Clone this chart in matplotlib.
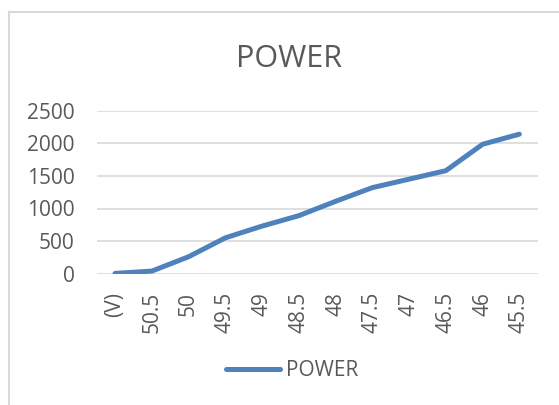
import matplotlib
matplotlib.use("Agg")
import matplotlib.pyplot as plt
from matplotlib.lines import Line2D

# data
voltage_labels = ["(V)", "50.5", "50", "49.5", "49", "48.5", "48",
                  "47.5", "47", "46.5", "46", "45.5"]
power = [5, 40, 260, 550, 730, 890, 1110, 1320, 1450, 1580, 1985, 2140]
y_ticks = [0, 500, 1000, 1500, 2000, 2500]

W, H = 559, 405
TEXT = "#595959"
GRID = "#D9D9D9"
BLUE = "#4F81BD"

plt.rcParams["font.family"] = ["Open Sans", "DejaVu Sans"]

fig = plt.figure(figsize=(W / 100, H / 100), dpi=100)
ax = fig.add_axes([96.7 / W, 1 - 273.7 / H, (537.7 - 96.7) / W, (273.7 - 110.7) / H])

x = list(range(len(voltage_labels)))
ax.plot(x, power, color=BLUE, lw=3.6, solid_capstyle="round",
        solid_joinstyle="round", label="POWER", zorder=3)

ax.set_xlim(-0.5, len(voltage_labels) - 0.5)
ax.set_ylim(0, 2500)
ax.set_yticks(y_ticks)
ax.set_yticklabels([str(v) for v in y_ticks])
ax.set_xticks(x)
ax.set_xticklabels(voltage_labels, rotation=90, va="top", ha="center")
ax.grid(axis="y", color=GRID, lw=1.2)
ax.set_axisbelow(True)
for s in ax.spines.values():
    s.set_visible(False)
ax.tick_params(axis="y", length=0, pad=16, labelsize=15, labelcolor=TEXT)
ax.tick_params(axis="x", length=0, pad=13, labelsize=15, labelcolor=TEXT)

fig.text(289 / W, 1 - 67 / H, "POWER", ha="center", va="baseline",
         fontsize=22, color=TEXT)

fig.legend(loc="center", bbox_to_anchor=(292 / W, 1 - 371 / H),
           frameon=False, fontsize=15, handlelength=2.6, handletextpad=0.25,
           labelcolor=TEXT)

# chart border (only the top and left edges are visible in the crop)
bx, by = 9 / W, 1 - 12 / H
fig.add_artist(Line2D([bx, bx], [0, by], color=GRID, lw=1.5))
fig.add_artist(Line2D([bx, 1], [by, by], color=GRID, lw=1.5))

fig.savefig("out.png", dpi=100)
